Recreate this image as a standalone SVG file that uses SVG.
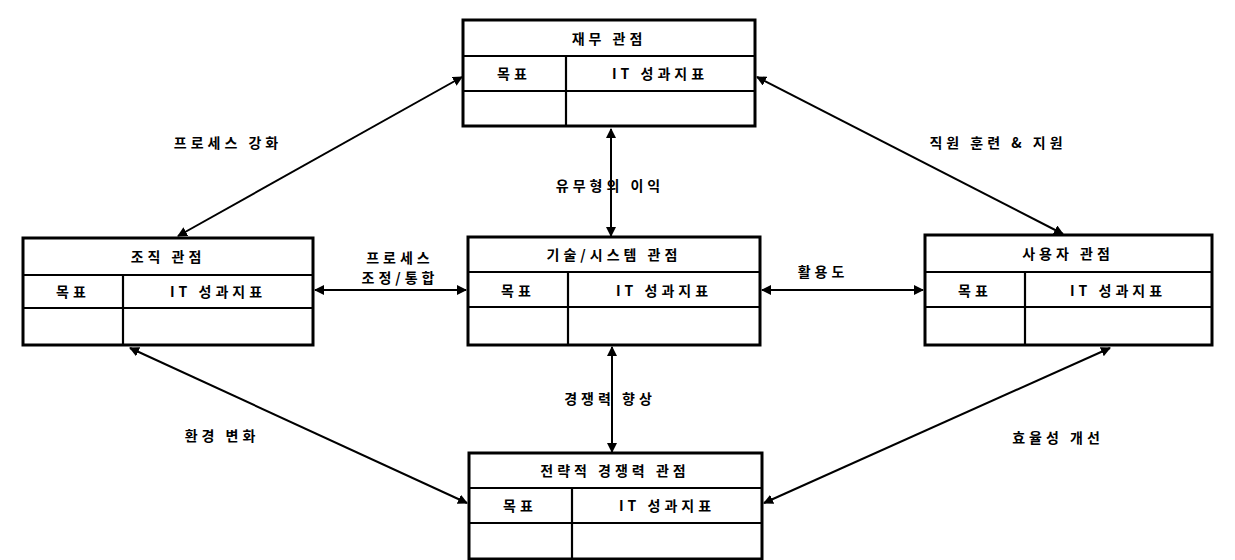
<svg xmlns="http://www.w3.org/2000/svg" width="1235" height="560" viewBox="0 0 1235 560">
<style>
  .box{fill:#fff;stroke:#000;stroke-width:3}
  .ln{stroke:#000;stroke-width:2.2;fill:none}
  .t{font-family:"Noto Sans CJK KR","Noto Sans",sans-serif;font-weight:bold;font-size:14px;letter-spacing:4px;fill:#000;text-anchor:middle;dominant-baseline:central}
  .c{stroke:#000;stroke-width:2;fill:none;marker-start:url(#a);marker-end:url(#a)}
</style>
<defs>
  <marker id="a" viewBox="0 0 10 10" refX="9" refY="5" markerWidth="10" markerHeight="10" markerUnits="userSpaceOnUse" orient="auto-start-reverse">
    <path d="M0,0 L10,5 L0,10 Z" fill="#000"/>
  </marker>
</defs>
<rect width="1235" height="560" fill="#fff"/>
<g id="connectors">
  <line class="c" x1="462" y1="77" x2="178" y2="236"/>
  <line class="c" x1="757" y1="77" x2="1063" y2="234"/>
  <line class="c" x1="611" y1="129" x2="611" y2="236"/>
  <line class="c" x1="315" y1="290" x2="466" y2="290"/>
  <line class="c" x1="762" y1="290" x2="923" y2="290"/>
  <line class="c" x1="612" y1="347" x2="612" y2="452"/>
  <line class="c" x1="130" y1="348" x2="467" y2="503"/>
  <line class="c" x1="1110" y1="348" x2="764" y2="503"/>
  <text class="t" x="228" y="142">프로세스 강화</text>
  <text class="t" x="998" y="142">직원 훈련 &amp; 지원</text>
  <text class="t" x="610" y="185">유무형의 이익</text>
  <text class="t" x="400" y="257">프로세스</text>
  <text class="t" x="400" y="277">조정/통합</text>
  <text class="t" x="823" y="271">활용도</text>
  <text class="t" x="610" y="398">경쟁력 향상</text>
  <text class="t" x="222" y="435">환경 변화</text>
  <text class="t" x="1058" y="437">효율성 개선</text>
</g>
<g id="node-finance">
  <rect class="box" x="463" y="20" width="292" height="106"/>
  <line class="ln" x1="463" y1="56" x2="755" y2="56"/>
  <line class="ln" x1="463" y1="91" x2="755" y2="91"/>
  <line class="ln" x1="566" y1="56" x2="566" y2="126"/>
  <text class="t" x="609" y="38">재무 관점</text>
  <text class="t" x="514" y="73">목표</text>
  <text class="t" x="660" y="73">IT 성과지표</text>
</g>
<g id="node-org">
  <rect class="box" x="23" y="238" width="290" height="107"/>
  <line class="ln" x1="23" y1="275" x2="313" y2="275"/>
  <line class="ln" x1="23" y1="308" x2="313" y2="308"/>
  <line class="ln" x1="123" y1="275" x2="123" y2="345"/>
  <text class="t" x="168" y="256">조직 관점</text>
  <text class="t" x="73" y="291">목표</text>
  <text class="t" x="218" y="291">IT 성과지표</text>
</g>
<g id="node-tech">
  <rect class="box" x="468" y="237" width="292" height="108"/>
  <line class="ln" x1="468" y1="272" x2="760" y2="272"/>
  <line class="ln" x1="468" y1="307" x2="760" y2="307"/>
  <line class="ln" x1="568" y1="272" x2="568" y2="345"/>
  <text class="t" x="614" y="254">기술/시스템 관점</text>
  <text class="t" x="518" y="290">목표</text>
  <text class="t" x="664" y="290">IT 성과지표</text>
</g>
<g id="node-user">
  <rect class="box" x="925" y="235" width="287" height="110"/>
  <line class="ln" x1="925" y1="272" x2="1212" y2="272"/>
  <line class="ln" x1="925" y1="307" x2="1212" y2="307"/>
  <line class="ln" x1="1025" y1="272" x2="1025" y2="345"/>
  <text class="t" x="1068" y="253">사용자 관점</text>
  <text class="t" x="975" y="290">목표</text>
  <text class="t" x="1118" y="290">IT 성과지표</text>
</g>
<g id="node-strategy">
  <rect class="box" x="469" y="453" width="293" height="106"/>
  <line class="ln" x1="469" y1="488" x2="762" y2="488"/>
  <line class="ln" x1="469" y1="523" x2="762" y2="523"/>
  <line class="ln" x1="572" y1="488" x2="572" y2="559"/>
  <text class="t" x="615" y="470">전략적 경쟁력 관점</text>
  <text class="t" x="520" y="505">목표</text>
  <text class="t" x="667" y="505">IT 성과지표</text>
</g>
</svg>
